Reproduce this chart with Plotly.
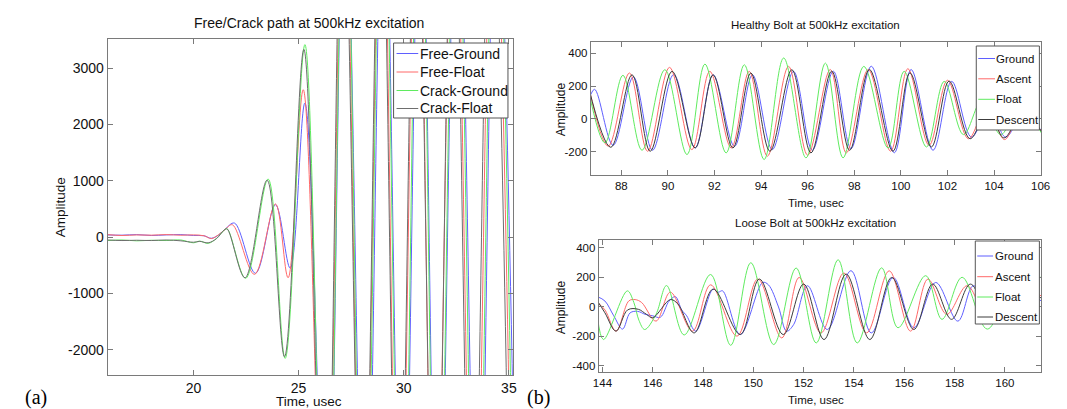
import plotly.graph_objects as go

W, H = 1067, 409

# ---------------- (a) Free/Crack path ----------------
fg_t = [15.9, 16.6, 17.3, 18.0, 18.7, 19.4, 20.0, 20.5, 20.85, 21.2, 21.5, 21.95, 22.95, 23.9, 24.6, 25.3,
        26.34, 27.2, 28.17, 29.05, 29.94, 30.8, 31.63, 32.55, 33.53, 34.4, 35.4]
fg_v = [40, 35, 45, 30, 40, 45, 30, 25, -20, 40, 140, 250, -640, 575, -550, 2380,
        -6500, 6800, -7000, 7000, -7200, 7000, -7200, 7200, -7200, 7000, -7000]

ff_t = [15.9, 16.6, 17.3, 18.0, 18.7, 19.4, 20.0, 20.5, 20.85, 21.2, 21.5, 21.85, 22.9, 23.9, 24.5, 25.22,
        26.26, 27.15, 28.06, 28.95, 29.78, 30.65, 31.47, 32.4, 33.34, 34.25, 35.2]
ff_v = [45, 30, 40, 35, 45, 35, 40, 25, -25, 45, 135, 220, -660, 590, -720, 2615,
        -7000, 7000, -7200, 7200, -7200, 7200, -7200, 7200, -7200, 7200, -7000]

cg_t = [15.9, 16.6, 17.3, 18.0, 18.7, 19.4, 20.0, 20.3, 20.7, 21.1, 21.45, 21.6, 22.48, 23.55, 24.36, 25.3,
        26.3, 27.2, 28.1, 29.0, 29.9, 30.75, 31.6, 32.5, 33.45, 34.35, 35.3]
cg_v = [-60, -50, -65, -55, -60, -50, -100, -70, -110, -20, 120, 150, -730, 1030, -2150, 3415,
        -7500, 7200, -7500, 7500, -7500, 7500, -7500, 7500, -7500, 7500, -7500]

cf_t = [15.9, 16.6, 17.3, 18.0, 18.7, 19.4, 20.0, 20.3, 20.7, 21.1, 21.45, 21.6, 22.45, 23.5, 24.33, 25.25,
        26.25, 27.1, 28.05, 28.9, 29.75, 30.6, 31.5, 32.35, 33.25, 34.15, 35.1]
cf_v = [-50, -60, -55, -60, -50, -65, -90, -75, -100, -25, 125, 145, -720, 1010, -2120, 3330,
        -7200, 7000, -7200, 7200, -7200, 7200, -7200, 7200, -7200, 7200, -7200]

a_names = ["Free-Ground", "Free-Float", "Crack-Ground", "Crack-Float"]
a_xticks = [20, 25, 30, 35]
a_yticks = [-2000, -1000, 0, 1000, 2000, 3000]
a_ytext = ["-2000", "-1000", "0", "1000", "2000", "3000"]

# ---------------- (b) Healthy bolt ----------------
hg_t = [86.5, 86.85, 87.65, 88.52, 89.34, 90.25, 91.17, 91.94, 92.86, 93.63, 94.48, 95.39, 96.2, 97.1,
        97.86, 98.73, 99.72, 100.44, 101.38, 102.18, 103.03, 103.8, 104.5, 105.3, 106.1]
hg_v = [60, 180, -160, 255, -190, 270, -176, 268, -166, 268, -186, 289, -190, 290,
        -180, 320, -205, 300, -190, 228, -110, 60, -110, 40, -90]

ha_t = [86.6, 87.44, 88.35, 89.13, 90.07, 91.03, 91.8, 92.72, 93.49, 94.27, 95.18, 96.0, 96.97, 97.66,
        98.6, 99.56, 100.3, 101.21, 102.0, 102.9, 103.7, 104.45, 105.2, 106.1]
ha_v = [195, -165, 279, -196, 313, -186, 289, -176, 289, -226, 319, -220, 300, -206,
        300, -196, 305, -160, 235, -120, 80, -125, 50, -90]

hf_t = [86.6, 87.3, 88.07, 88.89, 89.87, 90.82, 91.59, 92.5, 93.28, 94.13, 94.97, 95.93, 96.76, 97.52,
        98.41, 99.45, 100.14, 101.1, 101.86, 102.69, 103.5, 104.28, 105.1, 106.1]
hf_v = [170, -145, 265, -190, 299, -216, 333, -206, 329, -246, 370, -236, 339, -236,
        319, -176, 289, -170, 228, -95, 120, -95, 60, -100]

hd_t = [86.6, 87.55, 88.46, 89.24, 90.18, 91.17, 91.94, 92.79, 93.56, 94.38, 95.32, 96.14, 97.03, 97.8,
        98.65, 99.66, 100.39, 101.31, 102.07, 102.97, 103.75, 104.42, 105.25, 106.1]
hd_v = [190, -172, 268, -196, 289, -176, 268, -176, 279, -196, 299, -206, 290, -190,
        300, -196, 280, -170, 230, -120, 60, -115, 40, -90]

# ---------------- (b) Loose bolt ----------------
lg_t = [143.8, 144.1, 144.45, 144.8, 145.1, 145.4, 145.7, 146.0, 146.3, 146.65, 146.9, 147.15, 147.35,
        147.71, 148.4, 148.6, 148.78, 149.48, 150.37, 150.6, 151.0, 151.32, 151.6, 152.15, 152.94,
        153.88, 154.69, 155.56, 156.38, 157.25, 158.13, 158.75, 159.6, 160.5, 161.45]
lg_v = [70, 40, -60, -150, -40, -30, -50, -60, -70, 40, 70, -20, -60,
        -164, 121, 100, 109, -187, 166, 150, 0, -164, -120, 144, -153,
        246, -176, 200, -141, 166, -96, 144, -100, 120, 40]

la_t = [143.8, 144.1, 144.54, 145.05, 145.3, 145.56, 146.13, 146.7, 147.58, 148.3, 149.35, 150.18,
        151.13, 151.82, 152.69, 153.6, 154.5, 155.4, 156.25, 156.94, 157.69, 158.5, 159.3, 160.3, 161.45]
la_v = [30, -20, -164, 41, 50, 30, -96, 100, -164, 150, -198, 190,
        -210, 200, -176, 230, -176, 245, -164, 189, -50, 144, -60, 130, 75]

lf_t = [143.8, 144.04, 144.99, 145.25, 145.45, 145.68, 146.13, 146.55, 147.25, 148.3, 149.1, 149.9,
        150.81, 151.7, 152.5, 153.37, 154.13, 155.1, 155.75, 156.85, 157.5, 158.3, 159.3, 160.4, 161.45]
lf_v = [-60, -221, 109, 30, -90, -153, -50, 145, -190, 220, -260, 300,
        -255, 264, -244, 320, -244, 265, -141, 212, -84, 201, -150, 190, 200]

ld_t = [143.8, 144.1, 144.54, 145.0, 145.43, 145.75, 146.0, 146.7, 147.0, 147.65, 148.4, 149.48,
        150.24, 151.19, 152.0, 152.81, 153.69, 154.63, 155.5, 156.38, 157.13, 157.88, 158.63, 159.5,
        160.5, 161.45]
ld_v = [41, -40, -164, -20, -16, -50, -73, 50, 20, -176, 121, -187,
        189, -187, 155, -221, 223, -221, 200, -153, 155, -84, 155, -90,
        120, 60]

b_names = ["Ground", "Ascent", "Float", "Descent"]
h_xticks = [88, 90, 92, 94, 96, 98, 100, 102, 104, 106]
h_yticks = [-200, 0, 200, 400]
h_ytext = ["-200", "0", "200", "400"]
l_xticks = [144, 146, 148, 150, 152, 154, 156, 158, 160]
l_yticks = [-400, -200, 0, 200, 400]
l_ytext = ["-400", "-200", "0", "200", "400"]

# ---------------- styling ----------------
BLUE = "rgb(95,95,255)"
RED = "rgb(255,105,105)"
GREEN = "rgb(95,235,95)"
GRAY = "rgb(110,110,110)"
DARK = "rgb(60,60,60)"
SANS = "Liberation Sans, Arial, sans-serif"
SERIF = "Liberation Serif, Times New Roman, serif"
FRAME = "#7a7a7a"

fig = go.Figure()


def add(t, v, name, color, xa, ya):
    fig.add_trace(go.Scatter(
        x=t, y=v, name=name, mode="lines", xaxis=xa, yaxis=ya, showlegend=False,
        line=dict(color=color, width=1, shape="spline", smoothing=1, simplify=False),
        hoverinfo="skip"))


a_colors = [BLUE, RED, GREEN, GRAY]
b_colors = [BLUE, RED, GREEN, DARK]
for t, v, n, c in zip([fg_t, ff_t, cg_t, cf_t], [fg_v, ff_v, cg_v, cf_v], a_names, a_colors):
    add(t, v, n, c, "x", "y")
for t, v, n, c in zip([hg_t, ha_t, hf_t, hd_t], [hg_v, ha_v, hf_v, hd_v], b_names, b_colors):
    add(t, v, n, c, "x2", "y2")
for t, v, n, c in zip([lg_t, la_t, lf_t, ld_t], [lg_v, la_v, lf_v, ld_v], b_names, b_colors):
    add(t, v, n, c, "x3", "y3")


def px_x(p):
    return p / W


def px_y(p):
    return 1 - p / H


def axis(domain, rng, ticks, size, anchor, ticktext=None):
    d = dict(domain=domain, range=rng, tickvals=ticks, showline=True, mirror="ticks",
             linecolor=FRAME, linewidth=1, ticks="inside", ticklen=5, tickcolor=FRAME,
             showgrid=False, zeroline=False, anchor=anchor,
             tickfont=dict(family=SANS, size=size, color="#111"))
    if ticktext is not None:
        d["ticktext"] = ticktext
    return d


fig.update_layout(
    width=W, height=H, margin=dict(l=0, r=0, t=0, b=0),
    paper_bgcolor="white", plot_bgcolor="white", showlegend=False,
    xaxis=axis([px_x(95), px_x(506)], [15.92, 35.19], a_xticks, 14, "y"),
    yaxis=axis([px_y(367), px_y(31)], [-2445, 3515], a_yticks, 14, "x", a_ytext),
    xaxis2=axis([px_x(585), px_x(1042)], [86.69, 106.03], h_xticks, 11.5, "y2"),
    yaxis2=axis([px_y(167), px_y(34)], [-340, 467], h_yticks, 11.5, "x2", h_ytext),
    xaxis3=axis([px_x(593), px_x(1042)], [143.85, 161.45], l_xticks, 11.5, "y3"),
    yaxis3=axis([px_y(364), px_y(232)], [-441, 454], l_yticks, 11.5, "x3", l_ytext),
)

ann = []
shapes = []


def text(s, x, y, size, family=SANS, angle=0, color="#111", xanchor="center"):
    ann.append(dict(text=s, x=px_x(x), y=px_y(y), xref="paper", yref="paper", showarrow=False,
                    xanchor=xanchor, yanchor="middle", textangle=angle,
                    font=dict(family=family, size=size, color=color)))


def legend_box(box, rows, line_x, text_x, names, colors, size):
    x0, y0, x1, y1 = box
    shapes.append(dict(type="rect", xref="paper", yref="paper", layer="above",
                       x0=px_x(x0), x1=px_x(x1), y0=px_y(y1), y1=px_y(y0),
                       line=dict(color="#555", width=1), fillcolor="white"))
    for ry, n, c in zip(rows, names, colors):
        shapes.append(dict(type="line", xref="paper", yref="paper", layer="above",
                           x0=px_x(line_x[0]), x1=px_x(line_x[1]), y0=px_y(ry), y1=px_y(ry),
                           line=dict(color=c, width=1)))
        text(n, text_x, ry, size, xanchor="left")


legend_box((385, 35, 501, 110), [45.5, 64, 82.5, 100.5], (388, 410), 410, a_names, a_colors, 14)
legend_box((976, 38, 1040, 122), [50.5, 70.8, 91.3, 111.5], (978, 995), 994, b_names, b_colors, 11.5)
legend_box((975, 233, 1040, 316), [248, 268.7, 289, 309], (977, 993), 993, b_names, b_colors, 11.5)

text("Free/Crack path at 500kHz excitation", 299, 15, 14)
text("Time, usec", 299, 393, 13.5)
text("Amplitude", 47, 199, 13.5, angle=-90)
text("Healthy Bolt at 500kHz excitation", 813, 17, 11.5)
text("Time, usec", 813, 195, 11.5)
text("Amplitude", 555, 101, 12, angle=-90)
text("Loose Bolt at 500kHz excitation", 813, 215, 11.5)
text("Time, usec", 813, 392, 11.5)
text("Amplitude", 555, 299, 12, angle=-90)
text("(a)", 22, 389, 20, family=SERIF, color="black")
text("(b)", 532, 389, 20, family=SERIF, color="black")
fig.update_layout(annotations=ann, shapes=shapes)

fig.write_html("out.html")
